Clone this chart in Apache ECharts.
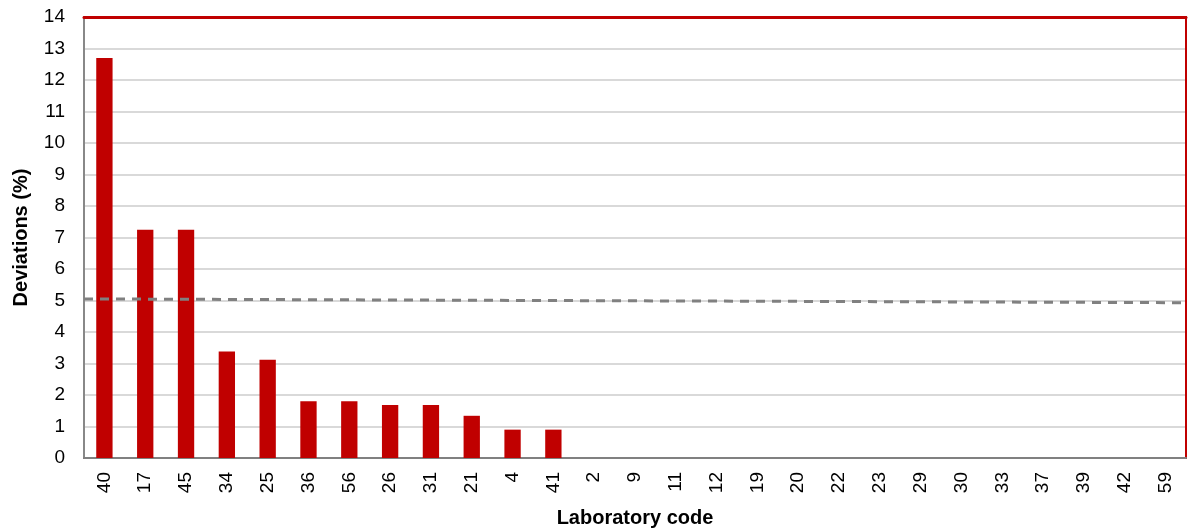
<!DOCTYPE html>
<html>
<head>
<meta charset="utf-8">
<script src="https://cdn.jsdelivr.net/npm/echarts@6/dist/echarts.min.js"></script>
<style>
  html, body { margin: 0; padding: 0; background: #fff; }
  #main { width: 1188px; height: 531px; }
</style>
</head>
<body>
<div id="main"></div>
<script>
// 实验室代码
var labCodes = ['40','17','45','34','25','36','56','26','31','21','4','41','2','9','11','12','19','20','22','23','29','30','33','37','39','42','59'];
// 偏差 (%)
var deviations = [12.7, 7.25, 7.25, 3.38, 3.12, 1.8, 1.8, 1.68, 1.68, 1.34, 0.9, 0.9, 0, 0, 0, 0, 0, 0, 0, 0, 0, 0, 0, 0, 0, 0, 0];
// 虚线 (左端, 右端)
var limitLine = [[0, 5.05], [1, 4.93]];

var myChart = echarts.init(document.getElementById('main'));
var options = {
    animation: false,
    grid: {
        left: 84, right: 2, top: 17, bottom: 73,
        outerBoundsMode: 'none',
        containLabel: false,
        show: true,
        borderColor: '#c00000',
        borderWidth: 2,
        backgroundColor: '#fff'
    },
    xAxis: [
        {
            type: 'category',
            data: labCodes,
            name: 'Laboratory code',
            nameLocation: 'middle',
            nameGap: 50,
            nameTextStyle: { fontFamily: 'Liberation Sans', fontSize: 20, fontWeight: 'bold', color: '#000' },
            axisLine: { lineStyle: { color: '#808080', width: 2 } },
            axisTick: { show: false },
            axisLabel: { rotate: 90, fontFamily: 'Liberation Sans', fontSize: 19, color: '#000', margin: 14, interval: 0 }
        },
        {
            // 顶部红色边框
            type: 'value',
            min: 0, max: 1,
            position: 'top',
            axisLine: { show: true, onZero: false, lineStyle: { color: '#c00000', width: 3 } },
            axisTick: { show: false },
            axisLabel: { show: false },
            splitLine: { show: false }
        }
    ],
    yAxis: [
        {
            type: 'value',
            min: 0, max: 14, interval: 1,
            name: 'Deviations (%)',
            nameLocation: 'middle',
            nameGap: 53,
            nameTextStyle: { fontFamily: 'Liberation Sans', fontSize: 20, fontWeight: 'bold', color: '#000' },
            axisLine: { show: true, lineStyle: { color: '#888', width: 2 } },
            axisTick: { show: false },
            axisLabel: { fontFamily: 'Liberation Sans', fontSize: 19, color: '#000', margin: 19 },
            splitLine: { lineStyle: { color: '#d9d9d9', width: 2 } }
        },
        {
            // 右侧红色边框
            type: 'value',
            min: 0, max: 14, interval: 1,
            position: 'right',
            axisLine: { show: true, onZero: false, lineStyle: { color: '#c00000', width: 2 } },
            axisTick: { show: false },
            axisLabel: { show: false },
            splitLine: { show: false }
        }
    ],
    series: [
        {
            type: 'bar',
            data: deviations,
            barWidth: '40%',
            itemStyle: { color: '#c00000' }
        },
        {
            type: 'line',
            xAxisIndex: 1,
            data: limitLine,
            symbol: 'none',
            lineStyle: { color: '#808080', width: 3, type: [9, 7] },
            z: 3
        }
    ]
};
myChart.setOption(options, true);
</script>
</body>
</html>
